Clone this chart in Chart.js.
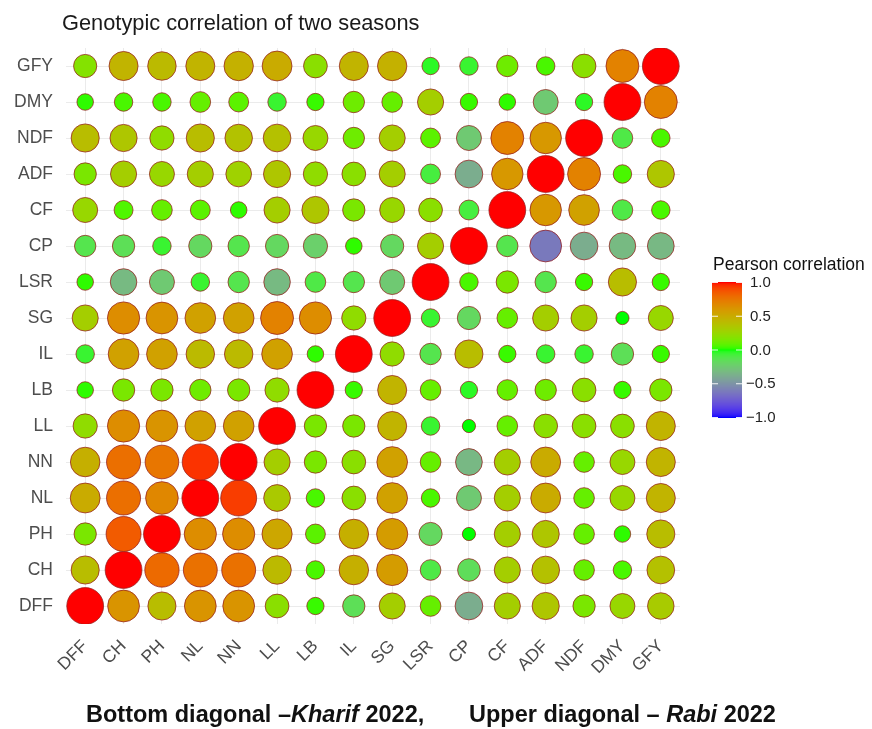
<!DOCTYPE html>
<html>
<head>
<meta charset="utf-8">
<script src="https://cdn.jsdelivr.net/npm/chart.js@4.4.1/dist/chart.umd.min.js"></script>
<style>
  html, body { margin: 0; padding: 0; background: #fff; }
  #wrap { position: relative; width: 872px; height: 729px; }
  canvas { position: absolute; left: 0; top: 0; }
  .cap { position: absolute; top: 701px; font: bold 23.5px "Liberation Sans", Arial, sans-serif; color: #111; white-space: pre; }
</style>
</head>
<body>
<div id="wrap">
  <canvas id="c" width="872" height="729"></canvas>
  <div class="cap" style="left:86px">Bottom diagonal –<i>Kharif</i> 2022,</div>
  <div class="cap" style="left:469px">Upper diagonal – <i>Rabi</i> 2022</div>
</div>
<script>
// Traits, in axis order (x: left to right, y: bottom to top)
const traits = ['DFF','CH','PH','NL','NN','LL','LB','IL','SG','LSR','CP','CF','ADF','NDF','DMY','GFY'];

// Correlation of each trait (row) with every trait in `traits` order
const rGFY = [0.18, 0.45, 0.42, 0.45, 0.47, 0.50, 0.20, 0.45, 0.47, -0.03, -0.05, 0.12, 0.05, 0.20, 0.70, 1];
const rDMY = [0.02, 0.05, 0.05, 0.10, 0.08, -0.05, 0.03, 0.12, 0.10, 0.30, 0.03, 0.02, -0.25, -0.03, 1, 0.70];
const rNDF = [0.40, 0.35, 0.22, 0.40, 0.37, 0.38, 0.25, 0.12, 0.30, 0.08, -0.25, 0.70, 0.60, 1, -0.10, 0.05];
const rADF = [0.15, 0.30, 0.25, 0.30, 0.28, 0.35, 0.22, 0.20, 0.30, -0.08, -0.38, 0.60, 1, 0.70, 0.05, 0.35];
const rCF  = [0.25, 0.06, 0.10, 0.08, 0.02, 0.30, 0.35, 0.15, 0.25, 0.20, -0.08, 1, 0.60, 0.55, -0.10, 0.05];
const rCP  = [-0.12, -0.15, -0.05, -0.18, -0.12, -0.18, -0.22, 0.02, -0.18, 0.30, 1, -0.12, -0.62, -0.38, -0.32, -0.33];
const rLSR = [0.02, -0.32, -0.25, -0.05, -0.12, -0.32, -0.10, -0.12, -0.25, 1, 0.05, 0.15, -0.12, 0.03, 0.40, 0.03];
const rSG  = [0.30, 0.65, 0.62, 0.55, 0.55, 0.70, 0.65, 0.22, 1, -0.05, -0.18, 0.10, 0.30, 0.30, 0.00, 0.25];
const rIL  = [-0.05, 0.55, 0.55, 0.42, 0.42, 0.55, 0.02, 1, 0.22, -0.12, 0.40, 0.03, -0.05, -0.05, -0.15, 0.03];
const rLB  = [0.02, 0.15, 0.15, 0.12, 0.15, 0.22, 1, 0.03, 0.45, 0.10, -0.03, 0.10, 0.12, 0.20, 0.03, 0.15];
const rLL  = [0.22, 0.65, 0.62, 0.55, 0.55, 1, 0.15, 0.15, 0.45, -0.05, 0.00, 0.10, 0.20, 0.20, 0.20, 0.45];
const rNN  = [0.48, 0.78, 0.75, 0.95, 1, 0.30, 0.15, 0.20, 0.55, 0.10, -0.33, 0.30, 0.50, 0.10, 0.25, 0.45];
const rNL  = [0.50, 0.78, 0.68, 1, 0.93, 0.33, 0.05, 0.20, 0.55, 0.05, -0.25, 0.30, 0.50, 0.10, 0.25, 0.45];
const rPH  = [0.15, 0.85, 1, 0.65, 0.65, 0.52, 0.08, 0.48, 0.58, -0.18, 0.00, 0.30, 0.35, 0.10, 0.02, 0.40];
const rCH  = [0.40, 1, 0.80, 0.77, 0.77, 0.42, 0.05, 0.48, 0.58, -0.10, -0.16, 0.30, 0.38, 0.10, 0.05, 0.38];
const rDFF = [1, 0.62, 0.40, 0.62, 0.62, 0.20, 0.03, -0.15, 0.30, 0.10, -0.38, 0.30, 0.35, 0.15, 0.25, 0.32];

const rows = {GFY: rGFY, DMY: rDMY, NDF: rNDF, ADF: rADF, CF: rCF, CP: rCP, LSR: rLSR, SG: rSG,
              IL: rIL, LB: rLB, LL: rLL, NN: rNN, NL: rNL, PH: rPH, CH: rCH, DFF: rDFF};

// Colour bar ticks
const legendTicks = [1.0, 0.5, 0.0, -0.5, -1.0];

// ---- diverging blue / green / red scale interpolated in CIE Lab ----
function srgbToLin(c) { c /= 255; return c <= 0.04045 ? c / 12.92 : Math.pow((c + 0.055) / 1.055, 2.4); }
function linToSrgb(c) { c = c <= 0.0031308 ? 12.92 * c : 1.055 * Math.pow(c, 1 / 2.4) - 0.055; return Math.max(0, Math.min(255, Math.round(c * 255))); }
const WX = 0.95047, WY = 1.0, WZ = 1.08883;
function rgbToLab(r, g, b) {
  const R = srgbToLin(r), G = srgbToLin(g), B = srgbToLin(b);
  let x = (R * 0.4124 + G * 0.3576 + B * 0.1805) / WX;
  let y = (R * 0.2126 + G * 0.7152 + B * 0.0722) / WY;
  let z = (R * 0.0193 + G * 0.1192 + B * 0.9505) / WZ;
  const f = t => t > 0.008856 ? Math.cbrt(t) : 7.787 * t + 16 / 116;
  const fx = f(x), fy = f(y), fz = f(z);
  return [116 * fy - 16, 500 * (fx - fy), 200 * (fy - fz)];
}
function labToRgb(L, a, b) {
  const fy = (L + 16) / 116, fx = fy + a / 500, fz = fy - b / 200;
  const fi = t => t * t * t > 0.008856 ? t * t * t : (t - 16 / 116) / 7.787;
  const x = fi(fx) * WX, y = fi(fy) * WY, z = fi(fz) * WZ;
  const R = x * 3.2406 + y * -1.5372 + z * -0.4986;
  const G = x * -0.9689 + y * 1.8758 + z * 0.0415;
  const B = x * 0.0557 + y * -0.2040 + z * 1.0570;
  return [linToSrgb(R), linToSrgb(G), linToSrgb(B)];
}
const LAB_LOW = rgbToLab(0, 0, 255), LAB_MID = rgbToLab(0, 255, 0), LAB_HIGH = rgbToLab(255, 0, 0);
function corrColor(v) {
  const t = Math.max(-1, Math.min(1, v));
  const end = t >= 0 ? LAB_HIGH : LAB_LOW, k = Math.abs(t);
  const L = LAB_MID[0] + (end[0] - LAB_MID[0]) * k;
  const A = LAB_MID[1] + (end[1] - LAB_MID[1]) * k;
  const B = LAB_MID[2] + (end[2] - LAB_MID[2]) * k;
  const c = labToRgb(L, A, B);
  return `rgb(${c[0]},${c[1]},${c[2]})`;
}

// circle radius grows with |r| (area-style scaling)
const R_MIN = 6.6, R_MAX = 18.4;
function corrRadius(v) { return R_MIN + (R_MAX - R_MIN) * Math.sqrt(Math.min(1, Math.abs(v))); }

// one bubble per cell
const points = [];
traits.forEach((rowName, yi) => {
  rows[rowName].forEach((v, xi) => points.push({x: xi, y: yi, v: v}));
});

const FONT = '"Liberation Sans", Arial, sans-serif';
const integerTicks = scale => { scale.ticks = traits.map((_, i) => ({value: i})); };

const decorations = {
  id: 'decorations',
  afterDraw(chart) {
    const ctx = chart.ctx;
    ctx.save();
    // title
    ctx.fillStyle = '#1a1a1a';
    ctx.font = '21.8px ' + FONT;
    ctx.textBaseline = 'middle';
    ctx.textAlign = 'left';
    ctx.fillText('Genotypic correlation of two seasons', 62, 24);

    // colour bar
    const bx = 712, bw = 30, top = 282, bottom = 417;
    for (let py = top; py <= bottom; py++) {
      const v = 1 - 2 * (py - top) / (bottom - top);
      ctx.fillStyle = corrColor(v);
      ctx.fillRect(bx, py, bw, 1);
    }
    ctx.font = '17.5px ' + FONT;
    ctx.fillStyle = '#111';
    ctx.fillText('Pearson correlation', 713, 265);
    ctx.font = '15px ' + FONT;
    legendTicks.forEach(v => {
      const py = top + (1 - v) / 2 * (bottom - top);
      ctx.strokeStyle = 'rgba(255,255,255,0.9)';
      ctx.lineWidth = 1;
      ctx.beginPath();
      ctx.moveTo(bx, py + 0.5); ctx.lineTo(bx + 6, py + 0.5);
      ctx.moveTo(bx + bw - 6, py + 0.5); ctx.lineTo(bx + bw, py + 0.5);
      ctx.stroke();
      ctx.fillStyle = '#222';
      const txt = (v < 0 ? '\u2212' : '') + Math.abs(v).toFixed(1);
      ctx.fillText(txt, v < 0 ? 746 : 750, py + 1);
    });
    ctx.restore();
  }
};

new Chart(document.getElementById('c'), {
  type: 'bubble',
  data: {
    datasets: [{
      data: points,
      backgroundColor: ctx => corrColor(ctx.raw.v),
      borderColor: 'rgba(150,30,30,0.75)',
      borderWidth: 1,
      radius: ctx => corrRadius(ctx.raw.v)
    }]
  },
  options: {
    responsive: false,
    animation: false,
    events: [],
    layout: { padding: { left: 10, top: 48, right: 192, bottom: 0 } },
    plugins: { legend: { display: false }, tooltip: { enabled: false }, title: { display: false } },
    scales: {
      x: {
        type: 'linear', min: -0.5, max: 15.5,
        afterBuildTicks: integerTicks,
        afterFit: s => { s.height = 105; },
        border: { display: false },
        grid: { color: '#ebebeb', lineWidth: 1, drawTicks: false },
        ticks: {
          autoSkip: false, minRotation: 45, maxRotation: 45, padding: 12,
          color: '#4d4d4d', font: { family: FONT, size: 17.5 },
          callback: v => traits[v]
        }
      },
      y: {
        type: 'linear', min: -0.5, max: 15.5,
        afterBuildTicks: integerTicks,
        afterFit: s => { s.width = 56; },
        border: { display: false },
        grid: { color: '#ebebeb', lineWidth: 1, drawTicks: false },
        ticks: {
          autoSkip: false, padding: 13,
          color: '#4d4d4d', font: { family: FONT, size: 17.5 },
          callback: v => traits[v]
        }
      }
    }
  },
  plugins: [decorations]
});
</script>
</body>
</html>
